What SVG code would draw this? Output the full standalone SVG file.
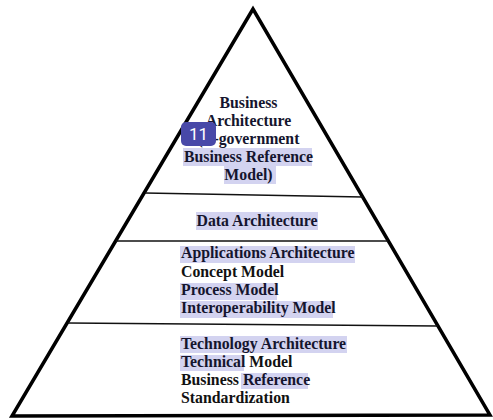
<svg xmlns="http://www.w3.org/2000/svg" width="493" height="420" viewBox="0 0 493 420">
<style>
.t{font-family:"Liberation Serif","Times New Roman",serif;font-weight:bold;font-size:15.8px;fill:#15152e}
.k{fill:#111}
.hl{fill:#d3d3f0}
.div{stroke:#111;stroke-width:1.6;fill:none}
</style>
<rect width="493" height="420" fill="#fff"/>
<g id="pyramid">
<polygon points="253,9 12,416 490,415" fill="#fff" stroke="#000" stroke-width="3.5" stroke-linejoin="miter"/>
</g>
<g id="connectors">
<line class="div" x1="145" y1="193" x2="363" y2="197"/>
<line class="div" x1="116" y1="241" x2="388" y2="241"/>
<line class="div" x1="68" y1="323" x2="438" y2="326"/>
</g>
<g id="business">
<rect class="hl" x="183" y="148" width="129" height="18"/>
<rect class="hl" x="224" y="166" width="52" height="18"/>
<text class="t" x="248.5" y="108" text-anchor="middle">Business</text>
<text class="t" x="248.5" y="126" text-anchor="middle">Architecture</text>
<text class="t" x="248.5" y="144" text-anchor="middle">(E-government</text>
<text class="t" x="248.5" y="162" text-anchor="middle">Business Reference</text>
<text class="t" x="248.5" y="180" text-anchor="middle">Model)</text>
</g>
<g id="data">
<rect class="hl" x="196" y="212" width="122" height="18"/>
<text class="t" x="257" y="226" text-anchor="middle">Data Architecture</text>
</g>
<g id="applications">
<rect class="hl" x="180" y="246" width="175" height="17"/>
<rect class="hl" x="180" y="283" width="97" height="17"/>
<rect class="hl" x="180" y="301" width="153" height="17"/>
<text class="t" x="181" y="258">Applications Architecture</text>
<text class="t k" x="181" y="276.5">Concept Model</text>
<text class="t" x="181" y="295">Process Model</text>
<text class="t" x="181" y="313">Interoperability Model</text>
</g>
<g id="technology">
<rect class="hl" x="180" y="336" width="167" height="17"/>
<rect class="hl" x="180" y="355" width="64" height="16"/>
<rect class="hl" x="241" y="373" width="67" height="16"/>
<text class="t" x="181" y="349">Technology Architecture</text>
<text class="t" x="181" y="367">Technical <tspan class="k">Model</tspan></text>
<text class="t" x="181" y="385"><tspan class="k">Business</tspan> Reference</text>
<text class="t k" x="181" y="403">Standardization</text>
</g>
<g id="badge">
<rect x="181" y="122" width="35" height="24" rx="5" fill="#4848a8"/>
<text x="198.5" y="140" text-anchor="middle" font-family="Roboto,'Liberation Sans',sans-serif" font-size="17" fill="#fff">11</text>
</g>
</svg>
